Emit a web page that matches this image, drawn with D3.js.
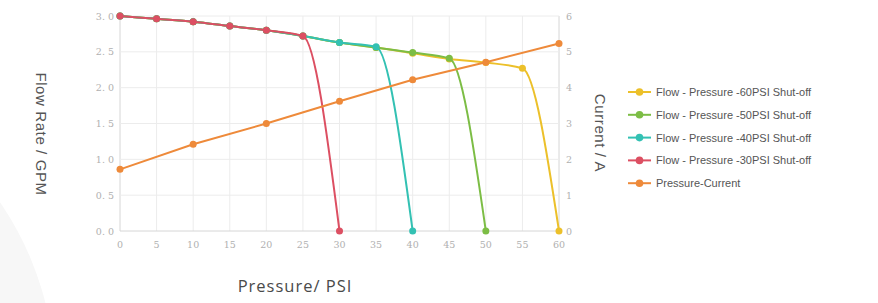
<!DOCTYPE html>
<html><head><meta charset="utf-8">
<script src="https://cdn.jsdelivr.net/npm/d3@7/dist/d3.min.js"></script>
<style>body{margin:0;background:#fff;}svg{display:block;}</style>
</head><body>
<svg id="c" width="878" height="303"></svg>
<script>
const pressure = [0,5,10,15,20,25,30,35,40,45,50,55,60];
const flow60 = [3.0,2.96,2.92,2.86,2.80,2.72,2.63,2.56,2.48,2.40,2.35,2.27,0];
const flow50 = [3.0,2.96,2.92,2.86,2.80,2.72,2.63,2.56,2.49,2.41,0];
const flow40 = [3.0,2.96,2.92,2.86,2.80,2.72,2.63,2.57,0];
const flow30 = [3.0,2.96,2.92,2.86,2.80,2.72,0];
const currentX = [0,10,20,30,40,50,60];
const current = [1.72,2.42,3.0,3.62,4.22,4.71,5.23];
const leftTicks = ["0. 0","0. 5","1. 0","1. 5","2. 0","2. 5","3. 0"];
const leftTickVals = [0,0.5,1,1.5,2,2.5,3];
const rightTicks = [0,1,2,3,4,5,6];
const xTicks = [0,5,10,15,20,25,30,35,40,45,50,55,60];
const seriesNames = ["Flow - Pressure -60PSI Shut-off","Flow - Pressure -50PSI Shut-off","Flow - Pressure -40PSI Shut-off","Flow - Pressure -30PSI Shut-off","Pressure-Current"];
const colors = ["#ecc02a","#7cbd45","#33c1b3","#dc4f62","#ee8a3a"];

const svg = d3.select("#c");
// faint background arc
svg.append("circle").attr("cx",-260).attr("cy",380).attr("r",315).attr("fill","#f7f7f7");

const x = d3.scaleLinear().domain([0,60]).range([120,559]);
const yL = d3.scaleLinear().domain([0,3]).range([231,16]);
const yR = d3.scaleLinear().domain([0,6]).range([231,16]);

const g = svg.append("g");
// grid
g.selectAll(".vg").data(xTicks).enter().append("line")
 .attr("x1",d=>x(d)).attr("x2",d=>x(d)).attr("y1",yL(0)).attr("y2",yL(3))
 .attr("stroke",d=>(d===0||d===60)?"#d6d6d6":"#ececec").attr("stroke-width",1);
g.selectAll(".hg").data(leftTickVals).enter().append("line")
 .attr("x1",x(0)).attr("x2",x(60)).attr("y1",d=>yL(d)).attr("y2",d=>yL(d))
 .attr("stroke",d=>d===0?"#d6d6d6":"#ececec").attr("stroke-width",1);

// tick labels
const tickFont = "'DejaVu Serif', serif";
g.selectAll(".lt").data(leftTickVals).enter().append("text")
 .attr("x",114).attr("y",d=>yL(d)+3.5).attr("text-anchor","end")
 .attr("font-family",tickFont).attr("font-size",9.5).attr("fill","#b0b0b0")
 .text((d,i)=>leftTicks[i]);
g.selectAll(".rt").data(rightTicks).enter().append("text")
 .attr("x",566).attr("y",d=>yR(d)+3.5).attr("text-anchor","start")
 .attr("font-family",tickFont).attr("font-size",9.5).attr("fill","#b0b0b0")
 .text(d=>d);
g.selectAll(".xt").data(xTicks).enter().append("text")
 .attr("x",d=>x(d)).attr("y",248).attr("text-anchor","middle")
 .attr("font-family",tickFont).attr("font-size",9.5).attr("fill","#b0b0b0")
 .text(d=>d);

// series
const flows = [flow60,flow50,flow40,flow30];
const line = d3.line().curve(d3.curveMonotoneX);
flows.forEach((arr,i)=>{
  const pts = arr.map((v,j)=>[x(pressure[j]),yL(v)]);
  g.append("path").attr("d",line(pts)).attr("fill","none").attr("stroke",colors[i]).attr("stroke-width",2);
  g.selectAll(null).data(pts).enter().append("circle")
   .attr("cx",d=>d[0]).attr("cy",d=>d[1]).attr("r",3.5).attr("fill",colors[i]);
});
const cpts = current.map((v,j)=>[x(currentX[j]),yR(v)]);
g.append("path").attr("d",d3.line()(cpts)).attr("fill","none").attr("stroke",colors[4]).attr("stroke-width",2);
g.selectAll(null).data(cpts).enter().append("circle")
 .attr("cx",d=>d[0]).attr("cy",d=>d[1]).attr("r",3.5).attr("fill",colors[4]);

// axis titles
svg.append("text").attr("transform","translate(36,134) rotate(90)").attr("text-anchor","middle")
 .attr("font-family","'Liberation Sans', Arial, sans-serif").attr("font-size",15).attr("letter-spacing",0.6).attr("fill","#555")
 .text("Flow Rate / GPM");
svg.append("text").attr("transform","translate(595,133) rotate(90)").attr("text-anchor","middle")
 .attr("font-family","'Liberation Sans', Arial, sans-serif").attr("font-size",15).attr("letter-spacing",0.6).attr("fill","#555")
 .text("Current / A");
svg.append("text").attr("x",295).attr("y",292).attr("text-anchor","middle")
 .attr("font-family","'Open Sans', 'Noto Sans', sans-serif").attr("font-size",16.5).attr("letter-spacing",1).attr("fill","#4a4a4a")
 .text("Pressure/ PSI");

// legend
const lg = svg.append("g");
seriesNames.forEach((n,i)=>{
  const yy = 92 + i*22.8;
  lg.append("line").attr("x1",628).attr("x2",651).attr("y1",yy).attr("y2",yy).attr("stroke",colors[i]).attr("stroke-width",2);
  lg.append("circle").attr("cx",639.5).attr("cy",yy).attr("r",3.8).attr("fill",colors[i]);
  lg.append("text").attr("x",656).attr("y",yy+4).attr("font-family","'Liberation Sans', Arial, sans-serif")
    .attr("font-size",11).attr("fill","#555").text(n);
});
</script>
</body></html>
